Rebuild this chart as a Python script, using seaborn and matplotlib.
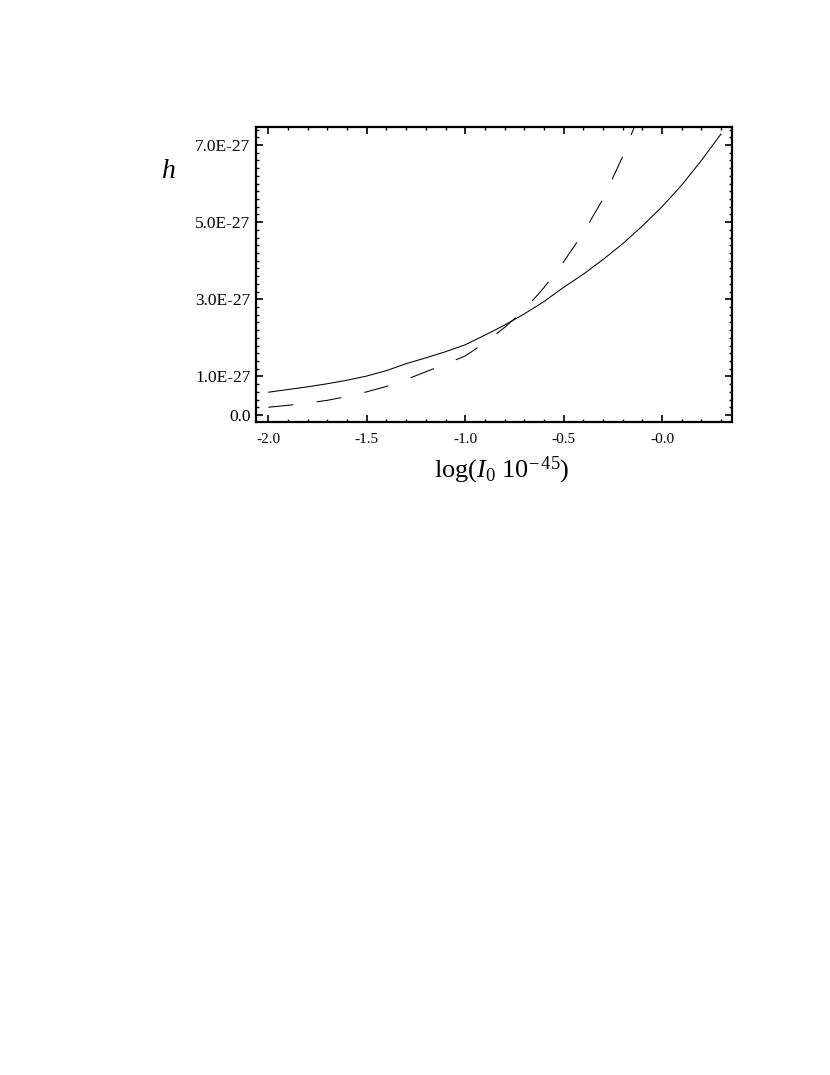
import numpy as np
import pandas as pd
import matplotlib
matplotlib.use("Agg")
import matplotlib.pyplot as plt
import seaborn as sns
from matplotlib.ticker import FixedLocator, FixedFormatter, MultipleLocator

# Data (h in units of 1e-27)
log_I0 = [-2.0, -1.9, -1.8, -1.7, -1.6, -1.5, -1.4, -1.3, -1.2, -1.1, -1.0,
          -0.9, -0.8, -0.7, -0.6, -0.5, -0.4, -0.3, -0.2, -0.1, 0.0, 0.1, 0.2, 0.3]
h_solid = [0.59, 0.66, 0.73, 0.81, 0.90, 1.01, 1.15, 1.33, 1.48, 1.64, 1.82,
           2.07, 2.33, 2.62, 2.94, 3.31, 3.65, 4.03, 4.44, 4.90, 5.40, 5.96, 6.60, 7.29]
log_I0_dash = [-2.0, -1.9, -1.8, -1.7, -1.6, -1.5, -1.4, -1.3, -1.2, -1.1, -1.0,
               -0.9, -0.8, -0.7, -0.6, -0.5, -0.4, -0.3, -0.2, -0.1]
h_dashed = [0.20, 0.25, 0.31, 0.38, 0.48, 0.60, 0.74, 0.92, 1.12, 1.32, 1.53,
            1.87, 2.27, 2.72, 3.30, 3.97, 4.72, 5.60, 6.70, 8.00]

x_ticks = [-2.0, -1.5, -1.0, -0.5, 0.0]
x_tick_labels = ["-2.0", "-1.5", "-1.0", "-0.5", "-0.0"]
y_ticks = [0.0, 1.0, 3.0, 5.0, 7.0]
y_tick_labels = ["0.0", "1.0E-27", "3.0E-27", "5.0E-27", "7.0E-27"]

df = pd.concat([
    pd.DataFrame({"x": log_I0, "h": h_solid, "curve": "solid"}),
    pd.DataFrame({"x": log_I0_dash, "h": h_dashed, "curve": "dashed"}),
])

sns.set_theme(style="white")
plt.rcParams["font.family"] = ["Liberation Serif", "DejaVu Serif"]
plt.rcParams["mathtext.fontset"] = "custom"
plt.rcParams["mathtext.rm"] = "Liberation Serif"
plt.rcParams["mathtext.it"] = "Liberation Serif:italic"
plt.rcParams["lines.scale_dashes"] = False
plt.rcParams["text.color"] = "black"
plt.rcParams["axes.labelcolor"] = "black"
plt.rcParams["xtick.color"] = "black"
plt.rcParams["ytick.color"] = "black"

fig = plt.figure(figsize=(8.3, 10.75), dpi=100)
ax = fig.add_axes([0.3084, 0.6079, 0.882 - 0.3084, 0.8819 - 0.6079])

sns.lineplot(data=df, x="x", y="h", style="curve", ax=ax,
             dashes={"solid": "", "dashed": (18, 17)},
             color="black", linewidth=0.75, legend=False, sort=False)

ax.set_xlim(-2.063, 0.356)
ax.set_ylim(-0.17, 7.47)

ax.xaxis.set_major_locator(FixedLocator(x_ticks))
ax.xaxis.set_major_formatter(FixedFormatter(x_tick_labels))
ax.xaxis.set_minor_locator(MultipleLocator(0.1))
ax.yaxis.set_major_locator(FixedLocator(y_ticks))
ax.yaxis.set_major_formatter(FixedFormatter(y_tick_labels))
ax.yaxis.set_minor_locator(MultipleLocator(0.2))

ax.tick_params(which="both", direction="in", top=True, right=True,
               bottom=True, left=True, color="black", labelcolor="black")
ax.tick_params(which="major", length=5, width=1.2)
ax.tick_params(which="minor", length=2.5, width=1.0)
ax.tick_params(axis="x", which="major", pad=8, labelsize=11)
ax.tick_params(axis="y", which="major", pad=4, labelsize=12.5)

for s in ax.spines.values():
    s.set_visible(True)
    s.set_color("black")
    s.set_linewidth(1.6)

ax.set_xlabel(r"log($I_0$ 10$^{\mathrm{-\,45}}$)", fontsize=19, labelpad=4,
              color="black")
ax.xaxis.set_label_coords((502 - 256) / (732 - 256), -0.114)
ax.set_ylabel("")
fig.text(169 / 830, 1 - 172 / 1075, "h", fontsize=20, style="italic",
         ha="center", va="center", color="black")

ax.grid(False)
fig.savefig("out.png", dpi=100, facecolor="white")
